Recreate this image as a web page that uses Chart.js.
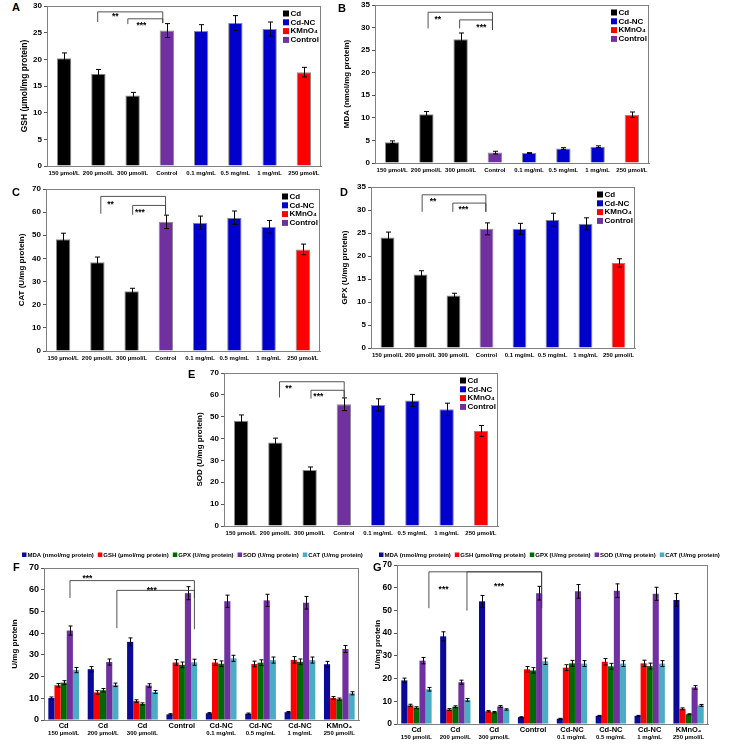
<!DOCTYPE html>
<html>
<head>
<meta charset="utf-8">
<script src="https://cdn.jsdelivr.net/npm/chart.js@4.4.1/dist/chart.umd.min.js"></script>
<style>
  body { margin: 0; background: #fff; }
  #wrap { position: relative; width: 729px; height: 746px; overflow: hidden; }
  canvas { position: absolute; }
  .tag { position: absolute; font: bold 11px 'Liberation Sans', Arial, sans-serif; line-height: 11px; }
</style>
</head>
<body>
<div id="wrap">
  <canvas id="cA"></canvas>
  <canvas id="cB"></canvas>
  <canvas id="cC"></canvas>
  <canvas id="cD"></canvas>
  <canvas id="cE"></canvas>
  <canvas id="cF"></canvas>
  <canvas id="cG"></canvas>
  <div class="tag" style="left:12px;top:2px">A</div>
  <div class="tag" style="left:338px;top:3px">B</div>
  <div class="tag" style="left:12px;top:187px">C</div>
  <div class="tag" style="left:340px;top:187px">D</div>
  <div class="tag" style="left:188px;top:369px">E</div>
  <div class="tag" style="left:13px;top:562px">F</div>
  <div class="tag" style="left:373px;top:562px">G</div>
</div>
<script>
const FONT = "'Liberation Sans', Arial, sans-serif";
Chart.defaults.font.family = FONT;
Chart.defaults.font.weight = 'bold';
Chart.defaults.color = '#000';

// ---- panels A-E: categories and groups
const doses = ['150 µmol/L', '200 µmol/L', '300 µmol/L', 'Control', '0.1 mg/mL', '0.5 mg/mL', '1 mg/mL', '250 µmol/L'];
const doseGroup = [0, 0, 0, 3, 1, 1, 1, 2];
const groupNames = ['Cd', 'Cd-NC', 'KMnO₄', 'Control'];
const groupColors = ['#000000', '#0000cc', '#ff0000', '#7030a0'];

const gsh = [20.2, 17.3, 13.2, 25.4, 25.3, 26.8, 25.7, 17.6];
const gshErr = [1.0, 0.8, 0.6, 1.3, 1.2, 1.4, 1.3, 0.9];
const mda = [4.6, 10.8, 27.4, 2.3, 2.2, 3.2, 3.6, 10.7];
const mdaErr = [0.3, 0.6, 1.4, 0.3, 0.1, 0.2, 0.2, 0.6];
const cat = [48.3, 38.4, 25.8, 55.8, 55.4, 57.6, 53.7, 43.9];
const catErr = [2.6, 2.2, 1.3, 2.9, 2.9, 2.9, 2.7, 2.3];
const gpx = [24.0, 16.0, 11.4, 25.9, 25.9, 27.9, 27.0, 18.5];
const gpxErr = [1.2, 0.8, 0.5, 1.3, 1.2, 1.4, 1.3, 0.9];
const sod = [48.1, 38.2, 25.6, 55.7, 55.4, 57.4, 53.4, 43.5];
const sodErr = [2.7, 2.0, 1.4, 2.9, 2.8, 2.8, 2.8, 2.5];

// significance brackets: from, to (category index), top, left leg, right leg, text, text position, text value
const brkA = [[0.98, 2.88, 28.9, 27.0, 26.8, '**', 0.27, 28.4], [1.86, 2.88, 27.6, 26.6, 26.8, '***', 0.39, 26.8]];
const brkB = [[1.05, 2.93, 33.4, 29.8, 29.5, '**', 0.15, 32.3], [1.97, 2.93, 31.7, 29.8, 29.5, '***', 0.66, 30.6]];
const brkC = [[1.10, 2.99, 66.8, 59.3, 58.9, '**', 0.15, 64.2], [2.03, 2.99, 62.9, 58.9, 58.9, '***', 0.22, 60.8]];
const brkD = [[1.05, 2.98, 33.3, 29.6, 29.6, '**', 0.17, 32.4], [1.98, 2.98, 31.5, 29.6, 29.6, '***', 0.32, 30.6]];
const brkE = [[1.12, 3.01, 66.0, 58.8, 58.3, '**', 0.14, 64.0], [2.04, 3.01, 62.1, 58.3, 58.3, '***', 0.22, 60.2]];

// ---- panels F, G: grouped series
const fgTop = ['Cd', 'Cd', 'Cd', 'Control', 'Cd-NC', 'Cd-NC', 'Cd-NC', 'KMnO₄'];
const fgSub = ['150 µmol/L', '200 µmol/L', '300 µmol/L', '', '0.1 mg/mL', '0.5 mg/mL', '1 mg/mL', '250 µmol/L'];
const seriesNames = ['MDA (nmol/mg protein)', 'GSH (µmol/mg protein)', 'GPX (U/mg protein)', 'SOD (U/mg protein)', 'CAT (U/mg protein)'];
const seriesColors = ['#0a0a96', '#ff0000', '#006a00', '#7030a0', '#4bacc6'];

const fMda = [10.1, 23.4, 36.0, 2.6, 3.1, 2.9, 3.6, 25.7];
const fMdaErr = [0.5, 1.2, 1.8, 0.3, 0.3, 0.3, 0.3, 1.3];
const fGsh = [16.0, 12.7, 8.7, 26.5, 26.5, 25.8, 27.7, 10.2];
const fGshErr = [0.8, 0.8, 0.6, 1.3, 1.3, 1.3, 1.5, 0.6];
const fGpx = [17.2, 13.7, 7.4, 25.4, 25.9, 26.4, 26.8, 9.6];
const fGpxErr = [0.9, 0.8, 0.5, 1.3, 1.3, 1.3, 1.3, 0.5];
const fSod = [41.2, 26.7, 15.9, 58.4, 54.7, 55.1, 54.0, 32.7];
const fSodErr = [2.1, 1.4, 0.8, 3.0, 2.8, 2.8, 2.9, 1.6];
const fCat = [23.0, 16.2, 12.9, 26.6, 28.4, 27.6, 27.6, 12.3];
const fCatErr = [1.2, 0.8, 0.7, 1.4, 1.4, 1.4, 1.4, 0.7];

const gMda = [19.2, 38.6, 54.0, 3.0, 2.3, 3.6, 3.6, 54.6];
const gMdaErr = [1.0, 2.0, 2.6, 0.2, 0.2, 0.2, 0.2, 2.8];
const gGsh = [8.2, 6.4, 5.6, 24.1, 24.8, 27.4, 26.7, 6.7];
const gGshErr = [0.5, 0.4, 0.3, 1.2, 1.3, 1.4, 1.4, 0.4];
const gGpx = [7.2, 7.6, 5.2, 23.6, 26.7, 25.4, 25.5, 4.3];
const gGpxErr = [0.4, 0.4, 0.3, 1.2, 1.3, 1.3, 1.3, 0.2];
const gSod = [27.9, 18.4, 7.7, 57.6, 58.4, 58.7, 57.3, 16.1];
const gSodErr = [1.4, 0.9, 0.4, 3.0, 3.0, 3.0, 2.9, 0.8];
const gCat = [15.3, 10.6, 6.4, 27.6, 26.6, 26.6, 26.6, 8.2];
const gCatErr = [0.8, 0.6, 0.3, 1.4, 1.3, 1.3, 1.3, 0.4];

const brkF = [[0.16, 3.32, 64.2, 56.2, 56.2, '***', 0.14, 66.2], [1.35, 3.32, 59.7, 42.3, 41.8, '***', 0.45, 60.8]];
const brkG = [[0.32, 3.22, 67.0, 51.0, 51.0, '***', 0.13, 60.5], [1.30, 3.22, 67.0, 49.9, 51.0, '***', 0.43, 61.6]];

// ---- plugins
const frame = {
  id: 'frame',
  afterDraw(chart) {
    const { ctx, chartArea: a } = chart;
    ctx.save();
    ctx.strokeStyle = '#808080';
    ctx.lineWidth = 1;
    ctx.strokeRect(Math.round(a.left) + 0.5, Math.round(a.top) + 0.5, Math.round(a.right - a.left) - 1, Math.round(a.bottom - a.top));
    ctx.restore();
  }
};

const errorBars = {
  id: 'errorBars',
  afterDatasetsDraw(chart, args, o) {
    const { ctx } = chart, y = chart.scales.y;
    ctx.save();
    ctx.strokeStyle = '#000';
    ctx.lineWidth = 1;
    chart.data.datasets.forEach((ds, i) => {
      if (!ds.errors) return;
      chart.getDatasetMeta(i).data.forEach((bar, j) => {
        const v = ds.data[j], e = ds.errors[j];
        const y1 = y.getPixelForValue(v + e), y2 = y.getPixelForValue(v - e);
        const x = Math.round(bar.x) + 0.5, c = o.cap / 2;
        ctx.beginPath();
        ctx.moveTo(x, y1); ctx.lineTo(x, y2);
        ctx.moveTo(x - c, y1); ctx.lineTo(x + c, y1);
        ctx.moveTo(x - c, y2); ctx.lineTo(x + c, y2);
        ctx.stroke();
      });
    });
    ctx.restore();
  }
};

const brackets = {
  id: 'brackets',
  afterDraw(chart, args, o) {
    if (!o.items) return;
    const { ctx } = chart, x = chart.scales.x, y = chart.scales.y;
    ctx.save();
    ctx.strokeStyle = '#404040';
    ctx.lineWidth = 0.9;
    ctx.fillStyle = '#000';
    ctx.font = 'bold 8.5px ' + FONT;
    ctx.textAlign = 'center';
    ctx.textBaseline = 'alphabetic';
    o.items.forEach(([a, b, top, legA, legB, txt, frac, tv]) => {
      const xa = x.getPixelForValue(a), xb = x.getPixelForValue(b), yt = y.getPixelForValue(top);
      ctx.beginPath();
      ctx.moveTo(xa, y.getPixelForValue(legA));
      ctx.lineTo(xa, yt);
      ctx.lineTo(xb, yt);
      ctx.lineTo(xb, y.getPixelForValue(legB));
      ctx.stroke();
      ctx.fillText(txt, xa + (xb - xa) * frac, y.getPixelForValue(tv) + 0.58 * 8.5);
    });
    ctx.restore();
  }
};

const boxLegend = {
  id: 'boxLegend',
  afterDraw(chart, args, o) {
    if (!o.names) return;
    const { ctx, chartArea: a } = chart;
    ctx.save();
    ctx.font = 'bold 8px ' + FONT;
    ctx.textBaseline = 'middle';
    o.names.forEach((n, i) => {
      const x = a.right - 38, y = a.top + 7.5 + i * 8.8;
      ctx.fillStyle = o.colors[i];
      ctx.fillRect(x, y - 3, 6, 6);
      ctx.fillStyle = '#000';
      ctx.fillText(n, x + 7.5, y);
    });
    ctx.restore();
  }
};

const rowLegend = {
  id: 'rowLegend',
  afterDraw(chart, args, o) {
    if (!o.show) return;
    const { ctx, chartArea: a } = chart;
    ctx.save();
    ctx.font = 'bold 6px ' + FONT;
    ctx.textBaseline = 'middle';
    let x = a.left + o.dx;
    const y = a.top + o.dy;
    chart.data.datasets.forEach(ds => {
      ctx.fillStyle = ds.backgroundColor;
      ctx.fillRect(x, y - 2.5, 4.5, 4.5);
      ctx.fillStyle = '#000';
      ctx.fillText(ds.label, x + 5.5, y);
      x += 5.5 + ctx.measureText(ds.label).width + 4;
    });
    ctx.restore();
  }
};

const twoLineTicks = {
  id: 'twoLineTicks',
  afterDraw(chart, args, o) {
    if (!o.sub) return;
    const { ctx } = chart, x = chart.scales.x, b = chart.chartArea.bottom;
    ctx.save();
    ctx.fillStyle = '#000';
    ctx.textAlign = 'center';
    ctx.textBaseline = 'top';
    chart.data.labels.forEach((t, i) => {
      const px = x.getPixelForValue(i);
      ctx.font = 'bold 7.5px ' + FONT;
      ctx.fillText(t, px, b + o.dy1);
      ctx.font = 'bold 6px ' + FONT;
      ctx.fillText(o.sub[i], px, b + o.dy2);
    });
    ctx.restore();
  }
};

// ---- layout helpers
function sizeCanvas(id, b) {
  const c = document.getElementById(id);
  const x0 = b.l - b.yw, y0 = b.t - b.pt;
  const w = b.r - x0 + b.pr, h = b.b - y0 + b.xh;
  c.width = w; c.height = h;
  c.style.left = x0 + 'px'; c.style.top = y0 + 'px';
  c.style.width = w + 'px'; c.style.height = h + 'px';
  return c;
}

function makeOptions(b, title, yMax, step, plugins) {
  return {
    responsive: false,
    animation: false,
    layout: { padding: { top: b.pt, right: b.pr, left: 0, bottom: 0 } },
    plugins: Object.assign({ legend: { display: false }, tooltip: { enabled: false } }, plugins),
    scales: {
      x: {
        grid: { display: false, drawTicks: false },
        border: { display: true, color: '#808080' },
        ticks: { display: b.xt, font: { size: 6 }, padding: 4, maxRotation: 0, autoSkip: false },
        afterFit: s => { s.height = b.xh; }
      },
      y: {
        min: 0, max: yMax,
        ticks: { stepSize: step, font: { size: b.tf }, padding: 2 },
        grid: { drawOnChartArea: false, drawTicks: true, tickLength: 3, color: '#555' },
        border: { color: '#808080' },
        title: { display: true, text: title, font: { size: b.yf }, padding: { top: 0, bottom: 0 } },
        afterFit: s => { s.width = b.yw; }
      }
    }
  };
}

function singlePanel(id, b, title, values, errs, yMax, step, brk) {
  return new Chart(sizeCanvas(id, b), {
    type: 'bar',
    data: {
      labels: doses,
      datasets: [{
        data: values, errors: errs,
        backgroundColor: doseGroup.map(g => groupColors[g]),
        borderColor: '#8a8a8a', borderWidth: 1,
        barPercentage: 0.42, categoryPercentage: 1
      }]
    },
    options: makeOptions(b, title, yMax, step, {
      errorBars: { cap: 5 },
      brackets: { items: brk },
      boxLegend: { names: groupNames, colors: groupColors }
    }),
    plugins: [frame, errorBars, brackets, boxLegend]
  });
}

function groupPanel(id, b, sets, errs, brk, dx, dy) {
  return new Chart(sizeCanvas(id, b), {
    type: 'bar',
    data: {
      labels: fgTop,
      datasets: seriesNames.map((n, i) => ({
        label: n, data: sets[i], errors: errs[i],
        backgroundColor: seriesColors[i], borderWidth: 0,
        barPercentage: 1, categoryPercentage: 0.78
      }))
    },
    options: makeOptions(b, 'U/mg protein', 70, 10, {
      errorBars: { cap: 4 },
      brackets: { items: brk },
      rowLegend: { show: true, dx: dx, dy: dy },
      twoLineTicks: { sub: fgSub, dy1: 2, dy2: 10 }
    }),
    plugins: [frame, errorBars, brackets, rowLegend, twoLineTicks]
  });
}

// plot areas on the page
const boxA = { l: 47, t: 6, r: 321, b: 166, yw: 27, pt: 10, pr: 4, xh: 14, tf: 8, yf: 8.5, xt: true };
const boxB = { l: 375, t: 5, r: 649, b: 163, yw: 33, pt: 10, pr: 4, xh: 14, tf: 8, yf: 8, xt: true };
const boxC = { l: 46, t: 189, r: 320, b: 351, yw: 29, pt: 10, pr: 4, xh: 14, tf: 8, yf: 8, xt: true };
const boxD = { l: 371, t: 187, r: 635, b: 348, yw: 31, pt: 10, pr: 4, xh: 14, tf: 8, yf: 8, xt: true };
const boxE = { l: 224, t: 373, r: 498, b: 526, yw: 29, pt: 10, pr: 4, xh: 14, tf: 8, yf: 8, xt: true };
const boxF = { l: 44, t: 568, r: 359, b: 720, yw: 34, pt: 20, pr: 6, xh: 22, tf: 9, yf: 8, xt: false };
const boxG = { l: 397, t: 565, r: 708, b: 724, yw: 24, pt: 20, pr: 18, xh: 20, tf: 8.5, yf: 8, xt: false };

singlePanel('cA', boxA, 'GSH (µmol/mg protein)', gsh, gshErr, 30, 5, brkA);
singlePanel('cB', boxB, 'MDA (nmol/mg protein)', mda, mdaErr, 35, 5, brkB);
singlePanel('cC', boxC, 'CAT (U/mg protein)', cat, catErr, 70, 10, brkC);
singlePanel('cD', boxD, 'GPX (U/mg protein)', gpx, gpxErr, 35, 5, brkD);
singlePanel('cE', boxE, 'SOD (U/mg protein)', sod, sodErr, 70, 10, brkE);

groupPanel('cF', boxF, [fMda, fGsh, fGpx, fSod, fCat], [fMdaErr, fGshErr, fGpxErr, fSodErr, fCatErr], brkF, -22, -13);
groupPanel('cG', boxG, [gMda, gGsh, gGpx, gSod, gCat], [gMdaErr, gGshErr, gGpxErr, gSodErr, gCatErr], brkG, -18, -10);
</script>
</body>
</html>
